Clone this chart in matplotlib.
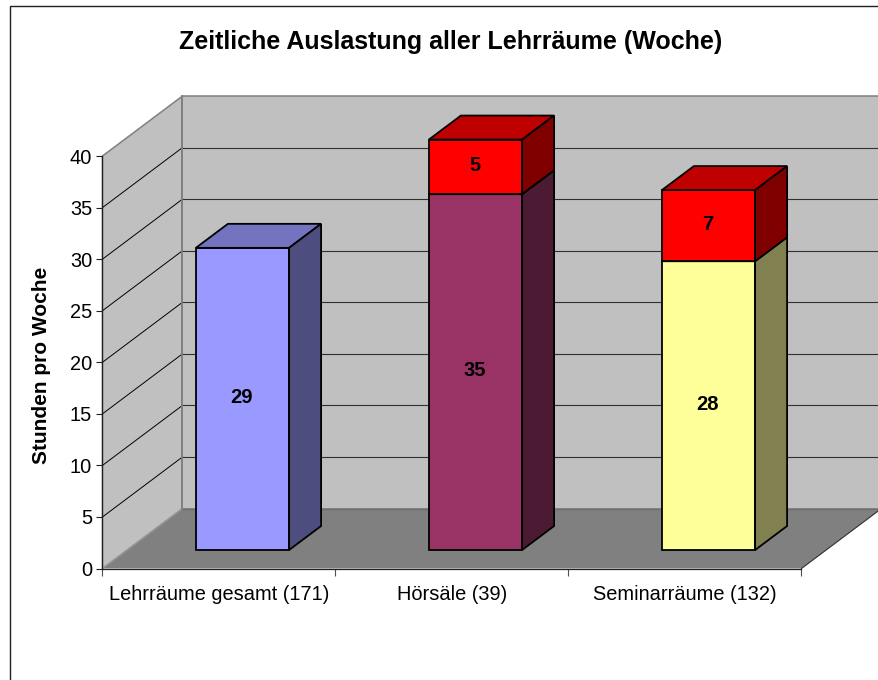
import matplotlib
matplotlib.use('Agg')
import matplotlib.pyplot as plt
from matplotlib.patches import Polygon, Rectangle

plt.rcParams['font.family'] = ['Liberation Sans', 'DejaVu Sans']

# Chart data
categories = ['Lehrräume gesamt (171)', 'Hörsäle (39)', 'Seminarräume (132)']
base_values = [29.3, 34.5, 28.0]
top_values = [0, 5.3, 6.9]
# The printed labels are rounded, the bar heights are not
base_labels = ['29', '35', '28']
top_labels = ['', '5', '7']
y_ticks = [0, 5, 10, 15, 20, 25, 30, 35, 40]

base_colors = [('#9999FF', '#7373BF', '#4D4D80'),
               ('#993366', '#73264D', '#4D1A33'),
               ('#FFFF99', '#BFBF73', '#808050')]
top_color = ('#FF0000', '#BF0000', '#800000')

W, H = 879, 680
LEFT, RIGHT, BOTTOM, TOP = 102.5, 801.5, 568.5, 156

fig = plt.figure(figsize=(W / 100, H / 100), dpi=100)
ax = fig.add_axes([LEFT / W, 1 - BOTTOM / H, (RIGHT - LEFT) / W, (BOTTOM - TOP) / H])
ax.set_xlim(0, 3)
ax.set_ylim(0, 40)
ax.patch.set_visible(False)

# 3D offsets are given in pixels, so convert them to data units
ux = 3 / (RIGHT - LEFT)
uy = 40 / (BOTTOM - TOP)


def pt(x, y, dx=0, dy=0):
    return (x + dx * ux, y + dy * uy)


def poly(points, face, edge, lw, z):
    ax.add_patch(Polygon(points, closed=True, facecolor=face, edgecolor=edge, linewidth=lw,
                         joinstyle='miter', clip_on=False, zorder=z))


# Walls and floor
WALL_X, WALL_Y = 80, 60
EXTRA = 3 + 200 * ux
poly([pt(0, 0), pt(0, 40), pt(0, 40, WALL_X, WALL_Y), pt(0, 0, WALL_X, WALL_Y)],
     '#C0C0C0', '#808080', 1.1, 1)
poly([pt(0, 0, WALL_X, WALL_Y), pt(0, 40, WALL_X, WALL_Y), pt(EXTRA, 40, WALL_X, WALL_Y),
      pt(EXTRA, 0, WALL_X, WALL_Y)], '#C0C0C0', '#808080', 1.1, 1)
poly([pt(0, 0), pt(3, 0), pt(3, 0, WALL_X, WALL_Y), pt(0, 0, WALL_X, WALL_Y)],
     '#808080', 'none', 0, 2)
ax.plot(*zip(pt(3, 0), pt(3, 0, WALL_X, WALL_Y)), color='#303030', lw=0.8, clip_on=False, zorder=2)
ax.plot(*zip(pt(0, 0, WALL_X, WALL_Y), pt(EXTRA, 0, WALL_X, WALL_Y)), color='#707070', lw=1.0,
        clip_on=False, zorder=2)
ax.plot(*zip(pt(0, 0), pt(0, 0, WALL_X, WALL_Y)), color='#A0A0A0', lw=0.7, clip_on=False, zorder=2)

# Gridlines run over the side wall, then along the back wall
for v in y_ticks[1:-1]:
    ax.plot(*zip(pt(0, v), pt(0, v, WALL_X, WALL_Y)), color='black', lw=0.7, clip_on=False, zorder=3)
    ax.plot(*zip(pt(0, v, WALL_X, WALL_Y), pt(EXTRA, v, WALL_X, WALL_Y)), color='#303030', lw=0.8,
            clip_on=False, zorder=3)
ax.plot(*zip(pt(0, 0, WALL_X, WALL_Y), pt(0, 40, WALL_X, WALL_Y)), color='#808080', lw=1.3,
        clip_on=False, zorder=3)

# Bars
BAR_W = 0.4
BAR_SHIFT_X, BAR_SHIFT_Y = 23.5, 18.5
DEPTH_X, DEPTH_Y = 32, 24


def box(i, start, height, label, colors, z):
    x0 = i + 0.5 - BAR_W / 2
    x1 = i + 0.5 + BAR_W / 2
    y0 = start
    y1 = start + height
    sx, sy = BAR_SHIFT_X, BAR_SHIFT_Y
    front, top, side = colors
    poly([pt(x0, y0, sx, sy), pt(x1, y0, sx, sy), pt(x1, y1, sx, sy), pt(x0, y1, sx, sy)],
         front, 'black', 1.3, z)
    poly([pt(x0, y1, sx, sy), pt(x1, y1, sx, sy), pt(x1, y1, sx + DEPTH_X, sy + DEPTH_Y),
          pt(x0, y1, sx + DEPTH_X, sy + DEPTH_Y)], top, 'black', 1.3, z)
    poly([pt(x1, y0, sx, sy), pt(x1, y1, sx, sy), pt(x1, y1, sx + DEPTH_X, sy + DEPTH_Y),
          pt(x1, y0, sx + DEPTH_X, sy + DEPTH_Y)], side, 'black', 1.3, z)
    lx, ly = pt(i + 0.5, start + height / 2, BAR_SHIFT_X - 0.5, BAR_SHIFT_Y + 1.5)
    ax.text(lx, ly, label, ha='center', va='center', fontsize=14.5, fontweight='bold',
            color='black', zorder=z + 1)


for i, (base, extra) in enumerate(zip(base_values, top_values)):
    box(i, 0, base, base_labels[i], base_colors[i], 5)
    if extra > 0:
        box(i, base, extra, top_labels[i], top_color, 6)

# Axes
for name in ('top', 'right'):
    ax.spines[name].set_visible(False)
for name in ('left', 'bottom'):
    ax.spines[name].set_color('#202020')
    ax.spines[name].set_linewidth(0.9)
    ax.spines[name].set_zorder(4)
ax.set_yticks(y_ticks)
ax.set_xticks([0, 1, 2, 3])
ax.set_xticklabels([])
ax.set_xticks([0.5, 1.5, 2.5], categories, minor=True)
ax.tick_params(axis='y', length=4.5, width=0.8, color='#202020', labelsize=14.4, pad=3)
ax.tick_params(axis='x', which='major', length=5, width=0.8, color='#505050')
ax.tick_params(axis='x', which='minor', length=0, labelsize=14.4, pad=12)
ax.set_ylabel('Stunden pro Woche', fontsize=15, fontweight='bold')
ax.yaxis.set_label_coords((51 - LEFT) / (RIGHT - LEFT), 0.492)

# Title and chart frame
fig.text(450.5 / W, 1 - 42 / H, 'Zeitliche Auslastung aller Lehrräume (Woche)', ha='center', va='center',
         fontsize=18, fontweight='bold', color='black')
fig.add_artist(Rectangle((10 / W, -20 / H), (W + 40) / W, (H + 14) / H, transform=fig.transFigure,
                         facecolor='none', edgecolor='#202020', linewidth=1.0, zorder=0))

fig.savefig('out.png', dpi=100)
